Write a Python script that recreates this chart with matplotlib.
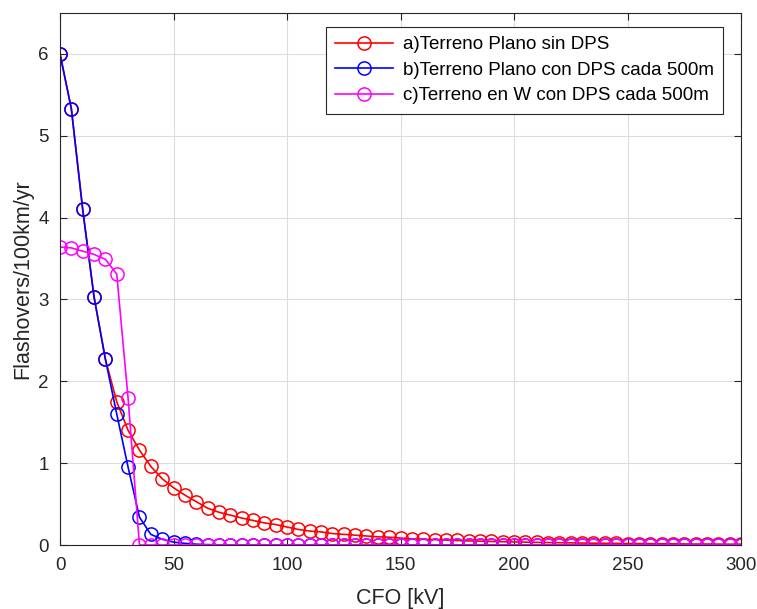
import matplotlib

matplotlib.use("Agg")

import matplotlib.pyplot as plt
import numpy as np

plt.rcParams["font.family"] = ["Liberation Sans", "DejaVu Sans"]

cfo_kv = np.arange(0, 305, 5)

# a) flat terrain, no arresters
flat_no_dps = [
    6.00, 5.33, 4.10, 3.03, 2.27, 1.75, 1.40, 1.16, 0.96, 0.81,
    0.70, 0.61, 0.53, 0.45, 0.40, 0.365, 0.33, 0.30, 0.27, 0.25,
    0.22, 0.19, 0.17, 0.16, 0.14, 0.13, 0.12, 0.11, 0.10, 0.095,
    0.085, 0.075, 0.07, 0.065, 0.06, 0.055, 0.05, 0.047, 0.043, 0.04,
    0.037, 0.035, 0.032, 0.03, 0.028, 0.026, 0.024, 0.022, 0.021, 0.02,
    0.018, 0.017, 0.016, 0.015, 0.014, 0.013, 0.012, 0.012, 0.011, 0.01,
    0.01,
]

# b) flat terrain, arresters every 500 m
flat_dps = [
    6.00, 5.33, 4.10, 3.03, 2.27, 1.60, 0.95, 0.34, 0.13, 0.07,
    0.035, 0.02, 0.01, 0.005,
] + [0.0] * 47

# c) W terrain, arresters every 500 m
w_dps = [3.64, 3.63, 3.59, 3.55, 3.49, 3.31, 1.79] + [0.0] * 54

series = [
    (flat_no_dps, "red", "a)Terreno Plano sin DPS"),
    (flat_dps, "blue", "b)Terreno Plano con DPS cada 500m"),
    (w_dps, "magenta", "c)Terreno en W con DPS cada 500m"),
]

fig = plt.figure(figsize=(7.57, 6.09), dpi=100)
ax = fig.add_axes([60 / 757, 64 / 609, 681 / 757, 532 / 609])

for values, color, label in series:
    ax.plot(
        cfo_kv, values, color=color, marker="o", markersize=9.5,
        markerfacecolor="none", markeredgewidth=1.1, linewidth=1.2,
        label=label,
    )

ax.set_xlim(0, 300)
ax.set_ylim(0, 6.5)
ax.set_xticks(np.arange(0, 301, 50))
ax.set_yticks(np.arange(0, 7, 1))
ax.grid(True, color="#dcdcdc", linewidth=0.8)
ax.set_axisbelow(True)
ax.tick_params(direction="in", top=True, right=True, labelsize=13.5,
               colors="#262626", length=5, width=0.8)
ax.tick_params(axis="x", pad=9)
ax.tick_params(axis="y", pad=8)
for spine in ax.spines.values():
    spine.set_color("#262626")
    spine.set_linewidth(0.8)

ax.set_xlabel("CFO [kV]", fontsize=15.5, color="#262626", labelpad=10)
ax.set_ylabel("Flashovers/100km/yr", fontsize=15.5, color="#262626", labelpad=4)

leg = ax.legend(
    loc="upper right", bbox_to_anchor=(0.9736, 0.974), fontsize=13.5,
    frameon=True, fancybox=False, edgecolor="#262626", framealpha=1,
    handlelength=3.1, borderpad=0.5, labelspacing=0.45, handletextpad=0.5,
    borderaxespad=0,
)
leg.get_frame().set_linewidth(0.8)

fig.savefig("out.png", dpi=100)
plt.close(fig)
